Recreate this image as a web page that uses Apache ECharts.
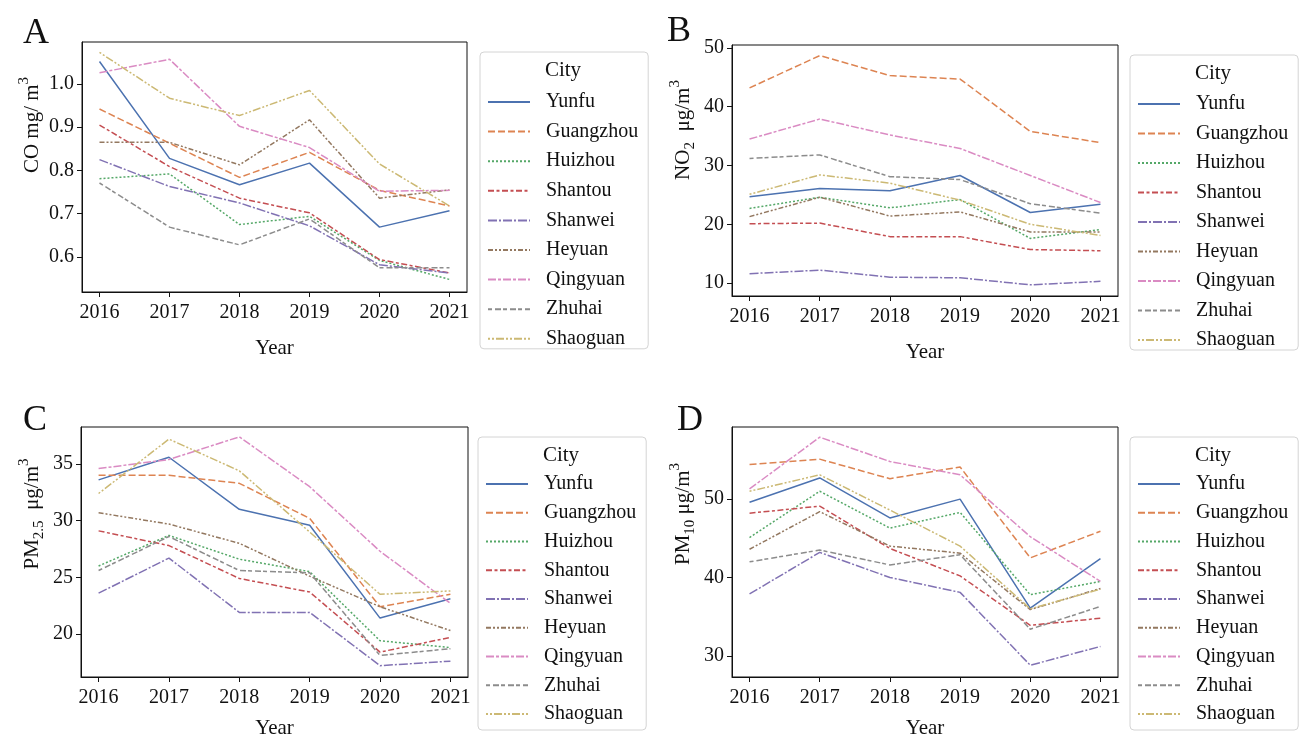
<!DOCTYPE html>
<html>
<head>
<meta charset="utf-8">
<script src="https://cdn.jsdelivr.net/npm/echarts@6/dist/echarts.min.js"></script>
<style>
html,body{margin:0;padding:0;background:#fff;}
#chart{width:1299px;height:741px;}
</style>
</head>
<body>
<div id="chart"></div>
<script>
// ---- data ----
const years = [2016, 2017, 2018, 2019, 2020, 2021];
const cities = ['Yunfu', 'Guangzhou', 'Huizhou', 'Shantou', 'Shanwei', 'Heyuan', 'Qingyuan', 'Zhuhai', 'Shaoguan'];

// CO (mg/m3), rows follow `cities`
const coValues = [
  [1.052, 0.828, 0.767, 0.817, 0.669, 0.707],
  [0.942, 0.863, 0.784, 0.842, 0.754, 0.718],
  [0.781, 0.792, 0.675, 0.694, 0.592, 0.548],
  [0.905, 0.809, 0.736, 0.702, 0.594, 0.563],
  [0.825, 0.763, 0.725, 0.672, 0.582, 0.563],
  [0.865, 0.865, 0.813, 0.917, 0.736, 0.755],
  [1.026, 1.057, 0.902, 0.853, 0.752, 0.754],
  [0.771, 0.669, 0.628, 0.688, 0.575, 0.575],
  [1.073, 0.967, 0.927, 0.985, 0.815, 0.718]
];
// NO2 (ug/m3)
const no2Values = [
  [24.7, 26.1, 25.7, 28.3, 22.0, 23.4],
  [43.2, 48.7, 45.3, 44.7, 35.8, 33.9],
  [22.7, 24.6, 22.8, 24.2, 17.6, 19.1],
  [20.1, 20.2, 17.9, 17.9, 15.7, 15.5],
  [11.6, 12.2, 11.0, 10.9, 9.7, 10.3],
  [21.3, 24.6, 21.4, 22.1, 18.7, 18.7],
  [34.5, 37.9, 35.2, 32.9, 28.3, 23.7],
  [31.2, 31.8, 28.1, 27.6, 23.5, 21.9],
  [25.1, 28.4, 27.0, 24.1, 20.0, 18.1]
];
// PM2.5 (ug/m3)
const pm25Values = [
  [33.6, 35.6, 31.0, 29.6, 21.4, 23.1],
  [34.0, 34.0, 33.3, 30.2, 22.4, 23.5],
  [26.0, 28.7, 26.6, 25.5, 19.4, 18.8],
  [29.1, 27.8, 24.9, 23.7, 18.4, 19.7],
  [23.6, 26.7, 21.9, 21.9, 17.2, 17.6],
  [30.7, 29.7, 28.0, 25.1, 22.4, 20.3],
  [34.6, 35.4, 37.4, 33.0, 27.3, 22.7],
  [25.6, 28.6, 25.6, 25.4, 18.1, 18.7],
  [32.4, 37.2, 34.4, 29.0, 23.5, 23.8]
];
// PM10 (ug/m3)
const pm10Values = [
  [49.6, 52.7, 47.6, 50.0, 36.1, 42.4],
  [54.4, 55.1, 52.6, 54.1, 42.5, 45.9],
  [45.1, 51.0, 46.3, 48.3, 37.8, 39.5],
  [48.2, 49.1, 43.7, 40.2, 33.9, 34.8],
  [37.9, 43.2, 40.0, 38.1, 28.8, 31.2],
  [43.6, 48.4, 44.0, 43.1, 35.9, 38.6],
  [51.3, 57.9, 54.8, 53.1, 45.2, 39.5],
  [42.0, 43.5, 41.6, 42.9, 33.4, 36.3],
  [51.0, 53.1, 48.6, 44.0, 36.0, 38.5]
];

const coTicks = [0.6, 0.7, 0.8, 0.9, 1.0];
const no2Ticks = [10, 20, 30, 40, 50];
const pm25Ticks = [20, 25, 30, 35];
const pm10Ticks = [30, 40, 50];

// ---- styles ----
const FONT = 'Liberation Serif';
const colors = ['#4C72B0', '#DD8452', '#55A868', '#C44E52', '#8172B3', '#937860', '#DA8BC3', '#8C8C8C', '#CCB974'];
const dashes = ['solid', [7, 3], [2, 2], [6, 2.5, 3, 2.5], [9, 2, 2, 2], [5, 2, 2, 2, 2, 2], [8, 2, 3, 2], [4, 3, 6, 2], [2, 2, 2, 2, 8, 2]];

const panels = [
  {values: coValues, ticks: coTicks, min: 0.519, max: 1.097, grid: {left: 82, top: 42, width: 385, height: 250}, fmt: v => v.toFixed(1),
   letter: 'A', lx: 36, ly: 34, ylabel: '{n|CO mg/ m}{sup|3}', yx: 32, yy: 125, nameGap: 46,
   legend: {left: 480, top: 52, gap: 9.6, padTop: 40, padBottom: 0}},
  {values: no2Values, ticks: no2Ticks, min: 7.8, max: 50.5, grid: {left: 732, top: 45, width: 386, height: 251}, fmt: v => String(v),
   letter: 'B', lx: 679, ly: 32, ylabel: '{n|NO}{sub|2}{n|  μg/m}{sup|3}', yx: 683, yy: 130, nameGap: 46,
   legend: {left: 1130, top: 55, gap: 9.5, padTop: 39, padBottom: 0}},
  {values: pm25Values, ticks: pm25Ticks, min: 16.2, max: 38.27, grid: {left: 81, top: 427, width: 387, height: 250}, fmt: v => String(v),
   letter: 'C', lx: 35, ly: 421, ylabel: '{n|PM}{sub|2.5}{n|  μg/m}{sup|3}', yx: 32, yy: 514, nameGap: 41,
   legend: {left: 478, top: 437, gap: 8.75, padTop: 37, padBottom: 6}},
  {values: pm10Values, ticks: pm10Ticks, min: 27.3, max: 59.2, grid: {left: 732, top: 427, width: 386, height: 250}, fmt: v => String(v),
   letter: 'D', lx: 690, ly: 421, ylabel: '{n|PM}{sub|10}{n| μg/m}{sup|3}', yx: 683, yy: 514, nameGap: 41,
   legend: {left: 1130, top: 437, gap: 8.75, padTop: 37, padBottom: 6}}
];

const richStyles = {
  n: {fontFamily: FONT, fontSize: 21, lineHeight: 30, verticalAlign: 'middle', fill: '#111', color: '#111'},
  sup: {fontFamily: FONT, fontSize: 15, lineHeight: 15, verticalAlign: 'top', fill: '#111', color: '#111'},
  sub: {fontFamily: FONT, fontSize: 15, lineHeight: 13, verticalAlign: 'bottom', fill: '#111', color: '#111'}
};

const grids = [], xAxes = [], yAxes = [], series = [], legends = [], graphics = [];

panels.forEach((p, pi) => {
  grids.push(Object.assign({show: true, borderColor: '#111', borderWidth: 1, backgroundColor: '#fff'}, p.grid));
  xAxes.push({
    type: 'value', gridIndex: pi, min: 2015.75, max: 2021.25,
    axisLine: {show: true, lineStyle: {color: '#111', width: 1}},
    axisTick: {show: true, length: 5, lineStyle: {color: '#111'}, customValues: years},
    axisLabel: {customValues: years, color: '#111', fontFamily: FONT, fontSize: 20, margin: 11, formatter: v => String(v)},
    splitLine: {show: false},
    name: 'Year', nameLocation: 'middle', nameGap: p.nameGap,
    nameTextStyle: {fontFamily: FONT, fontSize: 21, color: '#111'}
  });
  yAxes.push({
    type: 'value', gridIndex: pi, min: p.min, max: p.max,
    axisLine: {show: true, lineStyle: {color: '#111', width: 1}},
    axisTick: {show: true, length: 5, lineStyle: {color: '#111'}, customValues: p.ticks},
    axisLabel: {customValues: p.ticks, color: '#111', fontFamily: FONT, fontSize: 20, margin: 8, formatter: p.fmt},
    splitLine: {show: false}
  });
  cities.forEach((c, ci) => {
    series.push({
      type: 'line', name: c, xAxisIndex: pi, yAxisIndex: pi,
      data: years.map((y, j) => [y, p.values[ci][j]]),
      symbol: 'none', showSymbol: false, silent: true, animation: false,
      lineStyle: {color: colors[ci], width: 1.5, type: dashes[ci]},
      itemStyle: {color: colors[ci]}
    });
  });
  legends.push({
    orient: 'vertical', left: p.legend.left, top: p.legend.top,
    data: cities, selectedMode: false,
    itemWidth: 42, itemHeight: 14, itemGap: p.legend.gap,
    itemStyle: {opacity: 0},
    padding: [p.legend.padTop, 10, p.legend.padBottom, 7],
    borderColor: '#d4d4d4', borderWidth: 1, borderRadius: 4,
    backgroundColor: '#fff',
    textStyle: {fontFamily: FONT, fontSize: 20, color: '#111', lineHeight: 20, padding: [0, 0, 0, 11]}
  });
  // panel letter
  graphics.push({type: 'text', x: p.lx, y: p.ly, z: 100,
    style: {text: p.letter, font: '36px "' + FONT + '"', fill: '#111', textAlign: 'center', textVerticalAlign: 'middle'}});
  // y label
  graphics.push({type: 'text', x: p.yx, y: p.yy, rotation: Math.PI / 2, z: 100,
    style: {text: p.ylabel, rich: richStyles, textAlign: 'center', textVerticalAlign: 'middle', fill: '#111'}});
  // legend title
  graphics.push({type: 'text', x: p.legend.left + 83, y: p.legend.top + 18, z: 100,
    style: {text: 'City', font: '21px "' + FONT + '"', fill: '#111', textAlign: 'center', textVerticalAlign: 'middle'}});
});

const chart = echarts.init(document.getElementById('chart'), null, {renderer: 'canvas'});
chart.setOption({
  backgroundColor: '#fff',
  animation: false,
  grid: grids, xAxis: xAxes, yAxis: yAxes, series: series, legend: legends,
  graphic: graphics
});
</script>
</body>
</html>
